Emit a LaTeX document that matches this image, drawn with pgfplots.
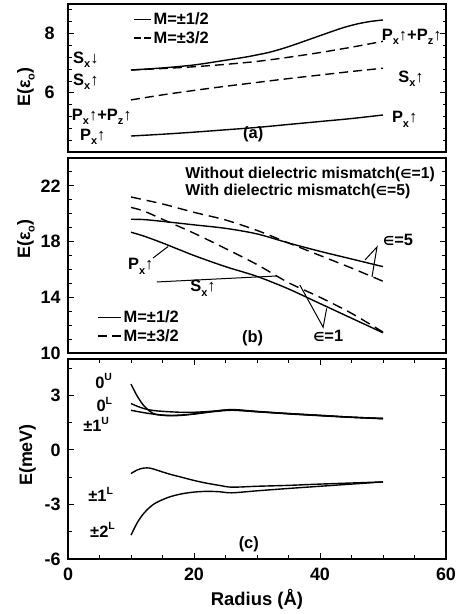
\documentclass[border=0pt]{standalone}
\usepackage{fontspec}
\setmainfont{Liberation Sans}
\newfontfamily\dejavu{DejaVu Sans}
\usepackage{pgfplots}
\pgfplotsset{compat=1.18}
\newcommand\sub[1]{\raisebox{-4.5bp}{\fontsize{11}{11}\selectfont #1}}
\newcommand\sups[1]{\raisebox{7.5bp}{\fontsize{10.5}{10.5}\selectfont #1}}
\newcommand\eps{{\dejavu\fontsize{12.5}{12.5}\selectfont ∈}}
\newcommand\fs{\fontsize{16.5}{19}\selectfont\bfseries}
\newcommand\fh{\fontsize{15.8}{19}\selectfont\bfseries}
\pgfplotsset{panel/.style={scale only axis, width=378bp, xmin=0, xmax=60, anchor=south west,
  axis line style={line width=2pt}, tick style={black, line width=0.9pt},
  major tick length=6bp, minor tick length=3.5bp, tick align=inside,
  ticklabel style={font=\fontsize{18}{18}\selectfont\bfseries},
  /pgf/number format/assume math mode=true,
  clip=false, legend cell align=left,
  every axis plot/.append style={line width=1.4pt, black}}}
\begin{document}
\begin{tikzpicture}
\useasboundingbox (0,0) rectangle (456bp,614bp);
% ---------------- panel (a)
\begin{axis}[panel, at={(68bp,462bp)}, height=148bp, ymin=4, ymax=9,
  ytick={6,8}, minor ytick={4.4,4.8,5.2,5.6,6.4,6.8,7.2,7.6,8.4,8.8}, xtick=\empty,
  yticklabel style={xshift=-10bp},
  legend style={at={(rel axis cs:0.172,0.955)}, anchor=north west, draw=none, fill=none,
    font=\fs, inner sep=0pt, row sep=1bp},
  legend image code/.code={\draw[#1] (0bp,0bp) -- (17bp,0bp);}]
\addlegendimage{line width=1.4pt}
\addlegendentry{M=±1/2}
\addlegendimage{line width=1.4pt, dash pattern=on 7bp off 3.5bp}
\addlegendentry{M=±3/2}
\addplot[smooth, forget plot] coordinates {(10,6.77) (15,6.84) (20,6.94) (25,7.1) (28,7.2) (30,7.28) (32,7.37) (34,7.49) (36,7.63) (38,7.78) (40,7.93) (42,8.08) (44,8.22) (46,8.33) (48,8.41) (50,8.46)};
\addplot[smooth, forget plot] coordinates {(10,4.54) (15,4.6) (20,4.67) (25,4.75) (30,4.83) (35,4.93) (40,5.03) (45,5.13) (50,5.25)};
\addplot[smooth, forget plot, dash pattern=on 9bp off 5bp] coordinates {(10,6.77) (15,6.82) (20,6.88) (25,6.96) (30,7.06) (35,7.2) (40,7.36) (45,7.54) (50,7.74)};
\addplot[smooth, forget plot, dash pattern=on 9bp off 5bp] coordinates {(10,5.76) (15,5.93) (20,6.08) (25,6.22) (30,6.35) (35,6.48) (40,6.6) (45,6.72) (50,6.83)};
\node[font=\fs, anchor=base west, inner sep=0pt] at (axis cs:0.8,7.0) {S\sub{x}↓};
\node[font=\fs, anchor=base west, inner sep=0pt] at (axis cs:0.8,6.26) {S\sub{x}↑};
\node[font=\fs, anchor=base west, inner sep=0pt] at (axis cs:0.6,5.08) {P\sub{x}↑+P\sub{z}↑};
\node[font=\fs, anchor=base west, inner sep=0pt] at (axis cs:1.9,4.4) {P\sub{x}↑};
\node[font=\fs, anchor=base west, inner sep=0pt] at (axis cs:49.8,7.78) {P\sub{x}↑+P\sub{z}↑};
\node[font=\fs, anchor=base west, inner sep=0pt] at (axis cs:52.4,6.36) {S\sub{x}↑};
\node[font=\fs, anchor=base west, inner sep=0pt] at (axis cs:51.4,4.98) {P\sub{x}↑};
\node[font=\fs, anchor=base, inner sep=0pt] at (axis cs:29.4,4.44) {(a)};
\end{axis}
% ---------------- panel (b)
\begin{axis}[panel, at={(68bp,261bp)}, height=195bp, ymin=10, ymax=24,
  ytick={10,14,18,22}, minor ytick={11,12,13,15,16,17,19,20,21,23}, xtick=\empty,
  yticklabel style={xshift=-4bp},
  legend style={at={(rel axis cs:0.077,0.228)}, anchor=north west, draw=none, fill=none,
    font=\fs, inner sep=0pt, row sep=1bp},
  legend image code/.code={\draw[#1] (0bp,0bp) -- (23bp,0bp);}]
\addlegendimage{line width=1.4pt}
\addlegendentry{M=±1/2}
\addlegendimage{line width=1.4pt, dash pattern=on 9bp off 5bp}
\addlegendentry{M=±3/2}
% eps=5, M=1/2
\addplot[smooth, forget plot] coordinates {(10,19.6) (12,19.58) (15,19.45) (20,19.2) (25,18.95) (30,18.55) (35,17.9) (40,17.3) (45,16.75) (50,16.2)};
% eps=5, M=3/2
\addplot[smooth, forget plot, dash pattern=on 10bp off 6bp] coordinates {(10,21.2) (15,20.7) (20,20.1) (25,19.55) (30,18.8) (35,17.9) (40,17.0) (45,16.1) (50,15.15)};
% eps=1, M=1/2
\addplot[smooth, forget plot] coordinates {(10,18.67) (12,18.4) (15,17.9) (20,17.0) (25,16.2) (30,15.5) (35,14.6) (40,13.55) (45,12.5) (50,11.45)};
% eps=1, M=3/2
\addplot[smooth, forget plot, dash pattern=on 10bp off 6bp] coordinates {(10,20.45) (12,20.2) (15,19.6) (20,18.6) (25,17.5) (30,16.35) (35,15.05) (40,14.0) (45,12.85) (50,11.5)};
\node[font=\fh, anchor=base west, inner sep=0pt] at (axis cs:18.6,22.56) {Without dielectric mismatch(\eps=1)};
\node[font=\fh, anchor=base west, inner sep=0pt] at (axis cs:18.6,21.34) {With dielectric mismatch(\eps=5)};
\node[font=\fs, anchor=base west, inner sep=0pt] at (axis cs:9.5,15.96) {P\sub{x}↑};
\node[font=\fs, anchor=base west, inner sep=0pt] at (axis cs:19.4,14.38) {S\sub{x}↑};
\draw[line width=1pt] (axis cs:13.5,16.82) -- (axis cs:15.9,17.65);
\draw[line width=1pt] (axis cs:14.1,15.1) -- (axis cs:33.2,15.53);
\node[font=\fs, anchor=base west, inner sep=0pt] at (axis cs:50,17.75) {\eps=5};
\draw[line width=1pt] (axis cs:47.14,16.68) -- (axis cs:49.05,17.61) -- (axis cs:48.25,15.46);
\node[font=\fs, anchor=base west, inner sep=0pt] at (axis cs:38.9,10.81) {\eps=1};
\draw[line width=1pt] (axis cs:36.8,14.88) -- (axis cs:40.5,11.85) -- (axis cs:41.06,13.2);
\node[font=\fs, anchor=base, inner sep=0pt] at (axis cs:29.3,10.72) {(b)};
\end{axis}
% ---------------- panel (c)
\begin{axis}[panel, at={(68bp,55bp)}, height=200bp, ymin=-6, ymax=5,
  ytick={-6,-3,0,3}, minor ytick={-4.5,-1.5,1.5,4.5},
  xtick={0,20,40,60}, minor xtick={5,10,15,25,30,35,45,50,55},
  yticklabel style={xshift=-4bp}, xticklabel style={yshift=-5bp}]
% 0^U
\addplot[smooth] coordinates {(10,3.62) (11,2.95) (12,2.45) (13,2.12) (14,1.95) (16,1.88) (18,1.9) (20,1.98) (23,2.12) (26,2.2) (30,2.1) (35,2.0) (40,1.9) (45,1.8) (50,1.73)};
% 0^L
\addplot[smooth] coordinates {(10,2.55) (11,2.4) (12,2.28) (13,2.2) (14,2.15) (16,2.1) (18,2.07) (20,2.07) (23,2.13) (26,2.22) (30,2.12) (35,2.0) (40,1.9) (45,1.8) (50,1.73)};
% +-1^U
\addplot[smooth] coordinates {(10,2.18) (12,2.05) (14,1.95) (16,1.9) (18,1.92) (20,1.97) (23,2.1) (26,2.18) (30,2.1) (35,1.98) (40,1.88) (45,1.79) (50,1.71)};
% +-1^L
\addplot[smooth] coordinates {(10,-1.3) (11,-1.1) (12,-1.0) (13,-1.0) (14,-1.1) (16,-1.32) (18,-1.5) (20,-1.68) (22,-1.83) (24,-1.95) (26,-2.05) (30,-2.0) (35,-1.95) (40,-1.88) (45,-1.82) (50,-1.76)};
% +-2^L
\addplot[smooth] coordinates {(10,-4.69) (11,-4.0) (12,-3.5) (13,-3.15) (14,-2.9) (16,-2.6) (18,-2.42) (20,-2.32) (22,-2.28) (24,-2.3) (26,-2.36) (30,-2.25) (35,-2.12) (40,-2.0) (45,-1.88) (50,-1.76)};
\node[font=\fs, anchor=base west, inner sep=0pt] at (axis cs:4.3,3.4) {0\sups{U}};
\node[font=\fs, anchor=base west, inner sep=0pt] at (axis cs:4.5,2.1) {0\sups{L}};
\node[font=\fs, anchor=base west, inner sep=0pt] at (axis cs:2.4,1.0) {±1\sups{U}};
\node[font=\fs, anchor=base west, inner sep=0pt] at (axis cs:3.2,-2.85) {±1\sups{L}};
\node[font=\fs, anchor=base west, inner sep=0pt] at (axis cs:3.5,-4.8) {±2\sups{L}};
\node[font=\fs, anchor=base, inner sep=0pt] at (axis cs:28.7,-5.4) {(c)};
\end{axis}
\node[rotate=90, anchor=base, inner sep=0pt, font=\fontsize{18}{18}\selectfont\bfseries] at (30bp,527bp) {E(ε\sub{o})};
\node[rotate=90, anchor=base, inner sep=0pt, font=\fontsize{18}{18}\selectfont\bfseries] at (30bp,375bp) {E(ε\sub{o})};
\node[rotate=90, anchor=base, inner sep=0pt, font=\fontsize{18}{18}\selectfont\bfseries] at (32bp,159bp) {E(meV)};
\node[anchor=base, inner sep=0pt, font=\fontsize{18.5}{19}\selectfont\bfseries] at (257bp,9bp) {Radius (Å)};
\end{tikzpicture}
\end{document}
